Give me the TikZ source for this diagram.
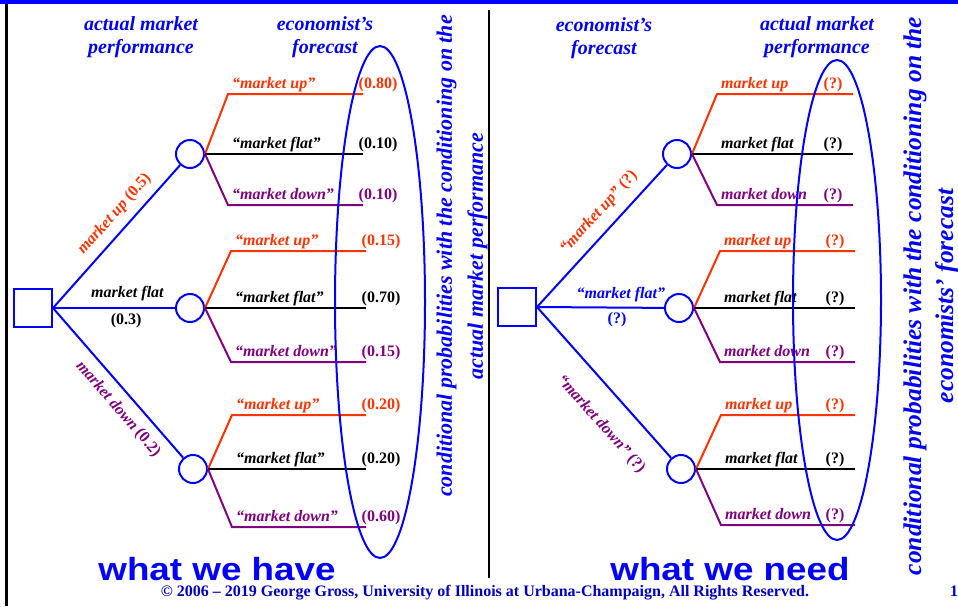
\documentclass[tikz,border=0pt]{standalone}
\usepackage{fontspec}
\setmainfont{Liberation Serif}
\newfontfamily\bigsans[FakeStretch=1.15]{Liberation Sans}
\usetikzlibrary{positioning}
\usepackage{xcolor}

\definecolor{upred}{RGB}{255,51,0}
\definecolor{downpurple}{RGB}{128,0,128}
\definecolor{treeblue}{RGB}{0,0,255}
\definecolor{footblue}{RGB}{0,0,190}

\begin{document}
\begin{tikzpicture}[
    x=1pt, y=-1pt,
    font=\bfseries\itshape\fontsize{16}{19}\selectfont,
    decision/.style={draw=treeblue, line width=2pt, minimum size=38pt, inner sep=0pt},
    chance/.style={draw=treeblue, line width=2pt, circle, minimum size=28pt, inner sep=0pt},
    branch/.style={draw=treeblue, line width=2pt},
    upline/.style={draw=upred, line width=2pt},
    flatline/.style={draw=black, line width=2pt},
    downline/.style={draw=downpurple, line width=2pt},
    oval/.style={draw=treeblue, line width=2pt},
    head/.style={text=treeblue, align=center, font=\bfseries\itshape\fontsize{20}{23}\selectfont},
    note/.style={text=treeblue, rotate=90, align=center},
    big/.style={text=treeblue, anchor=base, font=\bigsans\bfseries\fontsize{32}{38}\selectfont},
    lbl/.style={anchor=base west, inner sep=0pt},
    val/.style={anchor=base, inner sep=0pt, font=\bfseries\upshape\fontsize{16}{19}\selectfont},
  ]
    \fill[white] (0,0) rectangle (958,606);
    \useasboundingbox (0,0) rectangle (958,606);
    \fill[treeblue] (0,0) rectangle (958,4);
    \draw[line width=3pt] (6.5,4) -- (6.5,606);
    \draw[line width=2pt] (489,10) -- (489,578);

    \node[head] (lhead1) at (141,37) {actual market\\performance};
    \node[head] (lhead2) at (325,37) {economist’s\\forecast};
    \node[head] (rhead1) at (604,38) {economist’s\\forecast};
    \node[head] (rhead2) at (817,37) {actual market\\performance};

    % what we have
    \node[decision] (ldec) at (33,308) {};
    \node[chance] (lc1) at (190,154) {};
    \node[chance] (lc2) at (190,308) {};
    \node[chance] (lc3) at (193,469) {};
    \draw[branch] (ldec.east) -- (lc1)
      node[pos=.58, sloped, above, inner sep=8pt, text=upred] (lc1-lab) {market up {\upshape(0.5)}};
    \draw[branch] (ldec.east) -- (lc2)
      node[pos=.61, above, inner sep=6pt] (lc2-lab) {market flat}
      node[val, pos=.6, below, inner sep=4pt] (lc2-p) {(0.3)};
    \draw[branch] (ldec.east) -- (lc3)
      node[pos=.6, sloped, below, inner sep=9pt, text=downpurple] (lc3-lab) {market down {\upshape(0.2)}};

    \foreach \c/\bx/\ex/\yu/\yf/\yd/\pu/\pf/\pd in {
        lc1/228/363/94/154/205/0.80/0.10/0.10,
        lc2/231/366/251/308/362/0.15/0.70/0.15,
        lc3/232/366/415/469/527/0.20/0.20/0.60}{
      \coordinate (\c-ub) at (\bx,\yu);
      \coordinate (\c-ue) at (\ex,\yu);
      \coordinate (\c-fb) at (\bx,\yf);
      \coordinate (\c-fe) at (\ex,\yf);
      \coordinate (\c-db) at (\bx,\yd);
      \coordinate (\c-de) at (\ex,\yd);
      \draw[upline] (\c.east) -- (\c-ub) -- (\c-ue);
      \draw[flatline] (\c.east) -- (\c-fb) -- (\c-fe);
      \draw[downline] (\c.east) -- (\c-db) -- (\c-de);
      \node[lbl, text=upred] (\c-ut) at ([shift={(4pt,6pt)}]\c-ub) {“market up”};
      \node[lbl] (\c-ft) at ([shift={(4pt,6pt)}]\c-fb) {“market flat”};
      \node[lbl, text=downpurple] (\c-dt) at ([shift={(4pt,6pt)}]\c-db) {“market down”};
      \node[val, text=upred] (\c-uv) at ([shift={(15pt,6pt)}]\c-ue) {(\pu)};
      \node[val] (\c-fv) at ([shift={(15pt,6pt)}]\c-fe) {(\pf)};
      \node[val, text=downpurple] (\c-dv) at ([shift={(15pt,6pt)}]\c-de) {(\pd)};
    }

    % what we need
    \node[decision] (rdec) at (517,307) {};
    \node[chance] (rc1) at (677,154) {};
    \node[chance] (rc2) at (679,308) {};
    \node[chance] (rc3) at (681,469) {};
    \draw[branch] (rdec.east) -- (rc1)
      node[pos=.58, sloped, above, inner sep=10pt, text=upred] (rc1-lab) {“market up” {\upshape(?)}};
    \draw[branch] (rdec.east) -- (rc2)
      node[pos=.66, above, inner sep=5pt, text=treeblue] (rc2-lab) {“market flat”}
      node[val, pos=.63, below, inner sep=4pt, text=treeblue] (rc2-p) {(?)};
    \draw[branch] (rdec.east) -- (rc3)
      node[pos=.645, sloped, below, inner sep=22pt, text=downpurple] (rc3-lab) {“market down” {\upshape(?)}};

    \foreach \c/\bx/\ex/\yu/\yf/\yd in {
        rc1/717/853/94/154/205,
        rc2/720/855/251/308/362,
        rc3/721/855/415/469/525}{
      \coordinate (\c-ub) at (\bx,\yu);
      \coordinate (\c-ue) at (\ex,\yu);
      \coordinate (\c-fb) at (\bx,\yf);
      \coordinate (\c-fe) at (\ex,\yf);
      \coordinate (\c-db) at (\bx,\yd);
      \coordinate (\c-de) at (\ex,\yd);
      \draw[upline] (\c.east) -- (\c-ub) -- (\c-ue);
      \draw[flatline] (\c.east) -- (\c-fb) -- (\c-fe);
      \draw[downline] (\c.east) -- (\c-db) -- (\c-de);
      \node[lbl, text=upred] (\c-ut) at ([shift={(4pt,6pt)}]\c-ub) {market up};
      \node[lbl] (\c-ft) at ([shift={(4pt,6pt)}]\c-fb) {market flat};
      \node[lbl, text=downpurple] (\c-dt) at ([shift={(4pt,6pt)}]\c-db) {market down};
      \node[val, text=upred] (\c-uv) at ([shift={(-20pt,6pt)}]\c-ue) {(?)};
      \node[val] (\c-fv) at ([shift={(-20pt,6pt)}]\c-fe) {(?)};
      \node[val, text=downpurple] (\c-dv) at ([shift={(-20pt,6pt)}]\c-de) {(?)};
    }

    \draw[oval] (380,302) ellipse [x radius=45, y radius=256];
    \draw[oval] (837,300) ellipse [x radius=44, y radius=240];

    \node[note, font=\bfseries\itshape\fontsize{22}{31}\selectfont] (lnote) at (462,256)
      {conditional probabilities with the conditioning on the\\actual market performance};
    \node[note, font=\bfseries\itshape\fontsize{25.5}{32}\selectfont] (rnote) at (931,296)
      {conditional probabilities with the conditioning on the\\economists’ forecast};

    \node[big] (lhave) at (217,580) {what we have};
    \node[big] (rneed) at (730,580) {what we need};

    \node[text=footblue, anchor=base, font=\bfseries\fontsize{16}{19}\selectfont] (copy) at (485,596)
      {© 2006 – 2019 George Gross, University of Illinois at Urbana-Champaign, All Rights Reserved.};
    \node[text=footblue, anchor=base west, inner sep=0pt, font=\bfseries\fontsize{16}{19}\selectfont] (pgno) at (950,596) {19};
  \end{tikzpicture}
\end{document}
